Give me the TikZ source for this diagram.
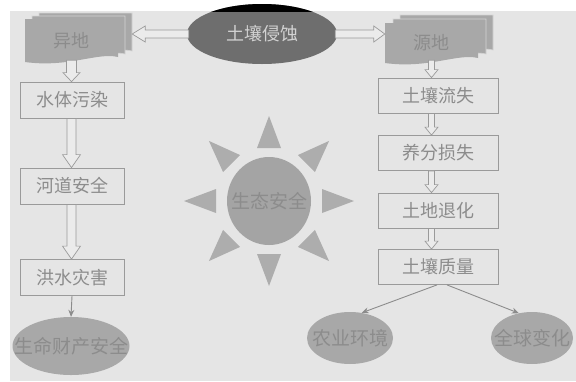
\documentclass[tikz,border=0pt]{standalone}
\usepackage{fontspec}
\setmainfont{Noto Sans CJK SC}
\usetikzlibrary{calc,arrows.meta,shapes.geometric}
\definecolor{bg}{HTML}{E5E5E5}
\definecolor{boxline}{HTML}{9A9A9A}
\definecolor{txt}{HTML}{8C8C8C}
\definecolor{darkell}{HTML}{6E6E6E}
\definecolor{lighttxt}{HTML}{D2D2D2}
\definecolor{midgray}{HTML}{A8A8A8}
\definecolor{sungray}{HTML}{A4A4A4}
\definecolor{raygray}{HTML}{ADADAD}
\definecolor{arrowfill}{HTML}{EBEBEB}
\definecolor{docline}{HTML}{D4D4D4}
\tikzset{
  box/.style={draw=boxline, line width=0.8pt, fill=bg, inner sep=0pt, font=\fontsize{18}{18}\selectfont, text=txt},
  leftbox/.style={box, minimum width=104pt, minimum height=36pt},
  rightbox/.style={box, minimum width=120pt, minimum height=35pt},
  blob/.style={ellipse, fill=midgray, inner sep=0pt, font=\fontsize{19}{19}\selectfont, text=txt},
  doctext/.style={inner sep=0pt, font=\fontsize{18}{18}\selectfont, text=txt},
  docshape/.style={fill=midgray, draw=docline, line width=0.6pt},
  hollow/.style={draw=boxline, line width=0.7pt, fill=arrowfill},
  blockarrow/.style n args={3}{to path={let \p1=(\tikztostart), \p2=(\tikztotarget),
      \n1={atan2(\y2-\y1,\x2-\x1)}, \n2={veclen(\x2-\x1,\y2-\y1)} in
    ([shift={(\p1)},rotate=\n1]0pt,-#1) -- ([shift={(\p1)},rotate=\n1]\n2-#3,-#1)
    -- ([shift={(\p1)},rotate=\n1]\n2-#3,-#2) -- ([shift={(\p1)},rotate=\n1]\n2,0pt)
    -- ([shift={(\p1)},rotate=\n1]\n2-#3,#2) -- ([shift={(\p1)},rotate=\n1]\n2-#3,#1)
    -- ([shift={(\p1)},rotate=\n1]0pt,#1) -- cycle}},
  thinarrow/.style={draw=txt, line width=0.9pt, -{Stealth[length=7pt,width=6pt]}},
}
\begin{document}
\begin{tikzpicture}[x=1pt,y=-1pt]
\useasboundingbox (0,0) rectangle (576,381);
\fill[white] (0,0) rectangle (576,381);
\fill[bg] (10,11) rectangle (576,381);

% stacked documents
\foreach \dx/\dy in {14/-6,7/-3}
  \filldraw[docshape, shift={(\dx,\dy)}] (25,19) -- (118,19) -- (118,57) .. controls (98,52) and (68,68) .. (25,62) -- cycle;
\fill[midgray] (25,19) -- (118,19) -- (118,57) .. controls (98,52) and (68,68) .. (25,62) -- cycle;
\foreach \dx/\dy in {15/-8,8/-4}
  \filldraw[docshape, shift={(\dx,\dy)}] (385,23) -- (478,23) -- (478,58) .. controls (458,53) and (428,69) .. (385,63) -- cycle;
\fill[midgray] (385,23) -- (478,23) -- (478,58) .. controls (458,53) and (428,69) .. (385,63) -- cycle;

\node[doctext, minimum width=93pt, minimum height=44pt] (yidi) at (71.5,41) {异地};
\node[doctext, minimum width=93pt, minimum height=40pt] (yuandi) at (431.5,43) {源地};

% top ellipse
\node[ellipse, fill=darkell, minimum width=150pt, minimum height=60pt, inner sep=0pt,
      font=\fontsize{18}{18}\selectfont, text=lighttxt] (qinshi) at (262,34) {土壤侵蚀};
\begin{scope}
  \clip (0,0) rectangle (576,11.5);
  \fill[black] (262,34) ellipse [x radius=75pt, y radius=30pt];
\end{scope}

% sun
\node[ellipse, fill=sungray, minimum width=84pt, minimum height=88pt, inner sep=0pt,
      font=\fontsize{19}{19}\selectfont, text=txt] (sun) at (269,201) {\makebox[0pt]{生态安全}};
\foreach \a in {0,45,...,315}
  \fill[raygray] ($(sun.center)+(\a:53pt)+(\a+90:12pt)$) -- ($(sun.center)+(\a:85pt)$)
     -- ($(sun.center)+(\a:53pt)+(\a-90:12pt)$) -- cycle;

% left column
\node[leftbox] (b1) at (72,100) {水体污染};
\node[leftbox] (b2) at (72,186) {河道安全};
\node[leftbox] (b3) at (72,277.5) {洪水灾害};
\node[blob, minimum width=117pt, minimum height=58pt] (life) at (71,346) {\makebox[0pt]{生命财产安全}};

% right column
\node[rightbox] (r1) at (438,95.5) {土壤流失};
\node[rightbox] (r2) at (438,153) {养分损失};
\node[rightbox] (r3) at (438,210.5) {土地退化};
\node[rightbox] (r4) at (438,267) {土壤质量};
\node[blob, minimum width=86pt, minimum height=52pt] (agri) at (350,338) {\makebox[0pt]{农业环境}};
\node[blob, minimum width=82pt, minimum height=52pt] (glob) at (532,338) {\makebox[0pt]{全球变化}};

% hollow block arrows
\path[hollow] ([xshift=2pt]qinshi.west) to[blockarrow={4pt}{8pt}{13pt}] ($(qinshi.west -| yidi.east)+(14pt,0)$);
\path[hollow] ([xshift=-2pt]qinshi.east) to[blockarrow={4pt}{8pt}{11pt}] (qinshi.east -| yuandi.west);
\path[hollow] ([yshift=3pt]yidi.south) to[blockarrow={5pt}{8.5pt}{9pt}] (yidi.south |- b1.north);
\path[hollow] (b1.south -| yidi.south) to[blockarrow={4.5pt}{9pt}{13pt}] (b2.north -| yidi.south);
\path[hollow] (b2.south -| yidi.south) to[blockarrow={4.5pt}{9pt}{13pt}] (b3.north -| yidi.south);
\path[hollow] ([yshift=3pt]yuandi.south) to[blockarrow={3pt}{6.5pt}{8pt}] (yuandi.south |- r1.north);
\path[hollow] (r1.south -| yuandi.south) to[blockarrow={3pt}{6.5pt}{8pt}] (r2.north -| yuandi.south);
\path[hollow] (r2.south -| yuandi.south) to[blockarrow={3pt}{6.5pt}{8pt}] (r3.north -| yuandi.south);
\path[hollow] (r3.south -| yuandi.south) to[blockarrow={3pt}{6.5pt}{8pt}] (r4.north -| yuandi.south);

% thin arrows
\draw[thinarrow] (b3.south) -- (life.north);
\draw[thinarrow] ([xshift=-1pt]r4.south) -- (agri.65);
\draw[thinarrow] ([xshift=9pt]r4.south) -- (glob.118);
\end{tikzpicture}
\end{document}
